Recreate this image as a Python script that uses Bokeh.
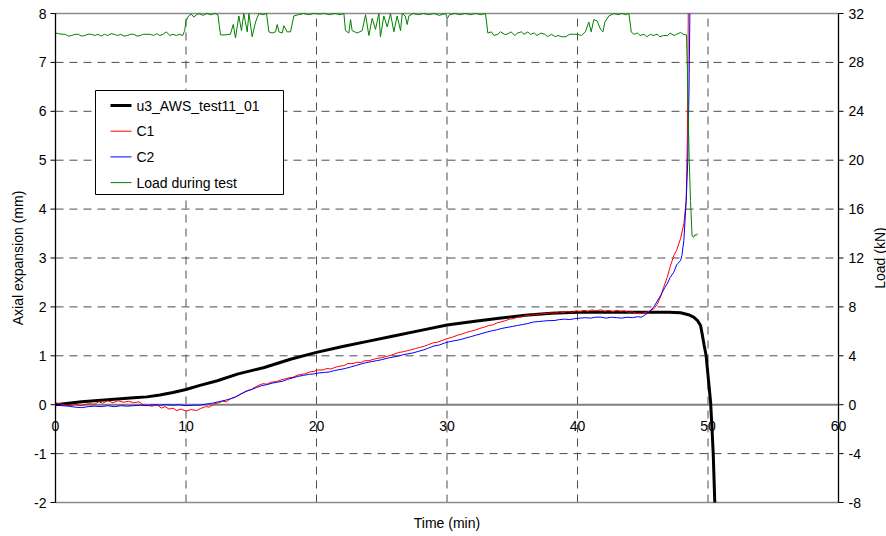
import math
from bokeh.plotting import figure
from bokeh.models import Range1d, ColumnDataSource, LabelSet, Label
from bokeh.core.properties import value
from bokeh.embed import file_html
from bokeh.resources import INLINE

# ---------------- data ----------------
x_ticks = [0, 10, 20, 30, 40, 50, 60]
x_tick_labels = ["0", "10", "20", "30", "40", "50", "60"]
y_ticks = [-2, -1, 0, 1, 2, 3, 4, 5, 6, 7, 8]
y_tick_labels = ["-2", "-1", "0", "1", "2", "3", "4", "5", "6", "7", "8"]
load_ticks = [-8, -4, 0, 4, 8, 12, 16, 20, 24, 28, 32]
load_tick_labels = ["-8", "-4", "0", "4", "8", "12", "16", "20", "24", "28", "32"]

u3_t = [0, 1, 2, 3, 4, 5, 6, 7, 8, 9, 10, 11, 12.4, 14, 16, 18, 20, 22, 24, 26, 28, 30,
        32, 34, 36, 38, 40, 42, 44, 46, 47, 47.9, 48.5, 48.9, 49.2, 49.43, 49.55, 49.7,
        49.86, 50.0, 50.2, 50.3, 50.4, 50.52]
u3_v = [0, 0.03, 0.06, 0.08, 0.1, 0.12, 0.14, 0.16, 0.2, 0.25, 0.31, 0.39, 0.49, 0.63,
        0.76, 0.93, 1.07, 1.19, 1.3, 1.41, 1.52, 1.63, 1.7, 1.77, 1.83, 1.87, 1.89, 1.89,
        1.89, 1.89, 1.89, 1.88, 1.84, 1.79, 1.72, 1.62, 1.45, 1.22, 1.0, 0.6, 0.05, -0.45,
        -1.0, -2.0]

c1_t = [0, 0.5, 1.0, 1.5, 2.0, 2.5, 3.0, 3.3, 3.6, 4.0, 4.4, 4.8, 5.2, 5.6, 6.0, 6.4, 6.7,
        7.0, 7.4, 7.8, 8.1, 8.4, 8.7, 9.0, 9.3, 9.6, 10.0, 10.4, 10.8, 11.1, 11.5, 11.8,
        12.1, 12.5, 12.8, 13.1, 13.4, 13.8, 14.1, 14.4, 14.7, 15.0, 15.3, 15.6, 15.9, 16.2,
        16.5, 16.9, 17.2, 17.6, 17.9, 18.2, 18.5, 18.8, 19.1, 19.5, 19.8, 20.1, 20.5, 20.8,
        21.1, 21.5, 21.8, 22.1, 22.4, 22.8, 23.1, 23.4, 23.7, 24.0, 24.4, 24.7, 25.0, 25.4,
        25.7, 26.0, 26.3, 26.6, 26.9, 27.2, 27.6, 27.9, 28.3, 28.6, 29.0, 29.3, 29.7, 30.0,
        30.4, 30.8, 31.1, 31.5, 31.8, 32.2, 32.5, 32.8, 33.2, 33.5, 33.8, 34.1, 34.5, 34.8,
        35.1, 35.4, 35.8, 36.1, 36.4, 36.7, 37.0, 37.3, 37.6, 37.9, 38.3, 38.6, 38.9, 39.2,
        39.6, 39.9, 40.2, 40.5, 40.8, 41.1, 41.4, 41.8, 42.1, 42.4, 42.7, 43.0, 43.3, 43.6,
        43.9, 44.2, 44.5, 44.8, 45.1, 45.4, 45.85, 46.1, 46.36, 46.6, 46.87, 47.1, 47.38,
        47.6, 47.9, 48.15, 48.33, 48.42, 48.49]
c1_v = [0.04, 0.01, -0.02, 0.0, -0.02, 0.02, 0.01, 0.06, 0.03, 0.08, 0.04, 0.08, 0.05,
        0.07, 0.04, 0.06, 0.0, -0.01, -0.03, 0.0, -0.07, -0.04, -0.09, -0.07, -0.12, -0.09,
        -0.13, -0.1, -0.12, -0.08, -0.04, -0.05, 0.01, 0.04, 0.07, 0.06, 0.12, 0.16, 0.2,
        0.25, 0.29, 0.31, 0.36, 0.4, 0.43, 0.42, 0.46, 0.47, 0.5, 0.53, 0.55, 0.56, 0.6,
        0.62, 0.63, 0.67, 0.68, 0.71, 0.71, 0.74, 0.73, 0.77, 0.79, 0.8, 0.84, 0.84, 0.87,
        0.86, 0.9, 0.9, 0.93, 0.95, 0.96, 0.99, 1.01, 1.04, 1.07, 1.08, 1.1, 1.12, 1.15,
        1.17, 1.2, 1.23, 1.27, 1.28, 1.32, 1.35, 1.38, 1.42, 1.44, 1.48, 1.5, 1.53, 1.56,
        1.58, 1.62, 1.63, 1.67, 1.69, 1.72, 1.75, 1.76, 1.79, 1.8, 1.83, 1.82, 1.85, 1.84,
        1.87, 1.86, 1.88, 1.87, 1.9, 1.88, 1.91, 1.89, 1.92, 1.9, 1.93, 1.91, 1.94, 1.92,
        1.94, 1.91, 1.93, 1.9, 1.93, 1.91, 1.92, 1.89, 1.9, 1.87, 1.86, 1.88, 1.9, 1.96,
        2.05, 2.2, 2.4, 2.6, 2.82, 3.05, 3.16, 3.4, 3.7, 4.18, 5.5, 8.0]

c2_t = [0, 0.5, 1.0, 1.5, 2.0, 2.5, 3.0, 3.5, 4.0, 4.5, 5.0, 5.5, 6.0, 6.5, 7.0, 7.5, 8.0,
        8.5, 9.0, 9.5, 10.0, 10.5, 11.0, 11.5, 12.0, 12.5, 13.0, 13.4, 13.8, 14.2, 14.6,
        15.0, 15.4, 15.8, 16.2, 16.6, 17.0, 17.4, 17.8, 18.2, 18.6, 19.0, 19.4, 19.8, 20.2,
        20.6, 21.0, 21.4, 21.8, 22.2, 22.6, 23.0, 23.4, 23.8, 24.2, 24.6, 25.0, 25.4, 25.8,
        26.2, 26.6, 27.0, 27.4, 27.8, 28.2, 28.6, 29.0, 29.4, 29.8, 30.2, 30.6, 31.0, 31.4,
        31.8, 32.2, 32.6, 33.0, 33.4, 33.8, 34.2, 34.6, 35.0, 35.4, 35.8, 36.2, 36.6, 37.0,
        37.4, 37.8, 38.2, 38.6, 39.0, 39.4, 39.8, 40.2, 40.6, 41.0, 41.4, 41.8, 42.2, 42.6,
        43.0, 43.4, 43.8, 44.2, 44.6, 44.9, 45.2, 45.5, 45.85, 46.36, 46.7, 46.87, 47.1,
        47.38, 47.6, 47.9, 48.0, 48.15, 48.33, 48.45, 48.55, 48.61]
c2_v = [-0.01, -0.02, -0.03, -0.05, -0.06, -0.04, -0.03, -0.04, -0.02, -0.04, -0.02, -0.03,
        -0.02, -0.01, -0.02, 0.0, -0.01, 0.0, -0.01, 0.0, -0.02, -0.01, -0.01, 0.01, 0.03,
        0.06, 0.09, 0.12, 0.16, 0.22, 0.27, 0.31, 0.35, 0.39, 0.41, 0.44, 0.46, 0.48, 0.52,
        0.55, 0.58, 0.6, 0.62, 0.63, 0.65, 0.66, 0.67, 0.7, 0.72, 0.74, 0.77, 0.8, 0.83,
        0.86, 0.88, 0.9, 0.92, 0.95, 0.97, 0.99, 1.02, 1.04, 1.06, 1.09, 1.12, 1.16, 1.2,
        1.22, 1.26, 1.29, 1.31, 1.33, 1.36, 1.39, 1.42, 1.45, 1.48, 1.51, 1.53, 1.56, 1.58,
        1.6, 1.62, 1.64, 1.66, 1.69, 1.7, 1.71, 1.72, 1.72, 1.74, 1.75, 1.74, 1.76, 1.77,
        1.78, 1.77, 1.79, 1.79, 1.77, 1.79, 1.78, 1.77, 1.79, 1.78, 1.8, 1.79, 1.84, 1.9,
        2.0, 2.23, 2.4, 2.47, 2.6, 2.71, 2.86, 2.95, 3.05, 3.36, 4.18, 5.0, 6.5, 8.0]

load_t = [0, 0.25, 0.5, 0.75, 1.0, 1.25, 1.5, 1.75, 2.0, 2.25, 2.5, 2.75, 3.0, 3.25, 3.5,
          3.75, 4.0, 4.25, 4.5, 4.75, 5.0, 5.25, 5.5, 5.75, 6.0, 6.25, 6.5, 6.75, 7.0, 7.25,
          7.5, 7.75, 8.0, 8.25, 8.5, 8.75, 9.0, 9.25, 9.5, 9.75, 9.9, 10.0, 10.2, 10.4, 10.6,
          10.8, 11.0, 11.3, 11.6, 11.9, 12.2, 12.45, 12.55, 12.65, 13.0, 13.4, 13.62, 13.79,
          14.05, 14.25, 14.43, 14.69, 14.82, 15.07, 15.33, 15.58, 15.9, 16.17, 16.35, 16.6,
          16.86, 16.99, 17.12, 17.37, 17.5, 17.75, 18.01, 18.26, 18.6, 19.0, 19.4, 19.8,
          20.2, 20.6, 21.0, 21.4, 21.8, 22.1, 22.22, 22.48, 22.61, 22.73, 23.12, 23.5, 23.76,
          24.01, 24.27, 24.52, 24.78, 24.9, 25.16, 25.42, 25.67, 25.93, 26.18, 26.44, 26.57,
          26.8, 26.95, 27.08, 27.4, 27.8, 28.2, 28.6, 29.0, 29.4, 29.9, 30.02, 30.2, 30.6,
          31.0, 31.4, 31.8, 32.2, 32.6, 32.95, 33.13, 33.4, 33.6, 33.9, 34.1, 34.4, 34.6,
          34.9, 35.2, 35.4, 35.7, 35.9, 36.2, 36.4, 36.7, 36.9, 37.2, 37.5, 37.7, 38.0, 38.3,
          38.5, 38.8, 39.1, 39.4, 39.7, 40.0, 40.3, 40.6, 40.87, 41.05, 41.25, 41.5, 41.77,
          41.95, 42.1, 42.4, 42.79, 43.1, 43.4, 43.7, 43.94, 44.12, 44.3, 44.6, 44.8, 45.1,
          45.3, 45.6, 45.8, 46.1, 46.3, 46.6, 46.9, 47.1, 47.4, 47.6, 47.9, 48.1, 48.35,
          48.42, 48.48, 48.56, 48.66, 48.78, 48.9, 49.0, 49.1, 49.2]
load_v = [30.4, 30.35, 30.3, 30.3, 30.15, 30.2, 30.3, 30.3, 30.15, 30.2, 30.3, 30.3, 30.2,
          30.3, 30.15, 30.3, 30.2, 30.35, 30.3, 30.2, 30.3, 30.15, 30.2, 30.3, 30.3, 30.15,
          30.2, 30.3, 30.3, 30.3, 30.2, 30.35, 30.2, 30.3, 30.5, 30.2, 30.3, 30.2, 30.3,
          30.2, 30.6, 31.4, 31.8, 31.95, 31.7, 31.9, 32.0, 31.85, 32.0, 31.9, 32.0, 31.9,
          31.0, 30.25, 30.25, 30.3, 31.1, 30.0, 31.8, 30.6, 32.0, 30.5, 32.0, 30.1, 31.3,
          32.0, 31.9, 32.0, 30.5, 30.4, 30.5, 31.1, 30.5, 30.4, 31.0, 30.5, 30.5, 31.8, 31.9,
          32.0, 31.9, 32.0, 31.95, 32.0, 31.9, 32.0, 31.9, 32.0, 30.6, 30.4, 31.5, 30.6,
          30.4, 30.6, 31.9, 30.2, 31.6, 30.7, 32.0, 30.1, 31.8, 30.9, 32.0, 30.5, 31.8, 30.6,
          32.0, 31.8, 31.1, 31.8, 32.0, 31.9, 32.0, 31.9, 32.0, 31.85, 32.0, 31.6, 31.9,
          32.0, 31.9, 32.0, 31.9, 32.0, 31.9, 32.0, 30.4, 30.5, 30.2, 30.3, 30.5, 30.3, 30.3,
          30.5, 30.2, 30.4, 30.5, 30.3, 30.5, 30.3, 30.4, 30.2, 30.4, 30.3, 30.1, 30.3, 30.1,
          30.2, 30.1, 30.1, 30.3, 30.3, 30.3, 30.2, 30.5, 31.3, 30.5, 31.5, 31.4, 30.7, 30.5,
          31.3, 31.8, 32.0, 31.9, 32.0, 31.9, 32.0, 30.5, 30.3, 30.4, 30.2, 30.3, 30.1, 30.3,
          30.2, 30.3, 30.1, 30.2, 30.2, 30.4, 30.2, 30.3, 30.45, 30.3, 30.25, 27.5, 24.0,
          20.0, 16.7, 13.8, 13.7, 13.9, 13.85, 14.0]

series_labels = ["u3_AWS_test11_01", "C1", "C2", "Load during test"]
x_title = "Time (min)"
y_title = "Axial expansion (mm)"
load_title = "Load (kN)"

# ---------------- layout (pixels) ----------------
W, H = 886, 536
PX_L, PX_R, PY_T, PY_B = 55, 838, 13, 502          # plot box in the page
X0, X1 = x_ticks[0], x_ticks[-1]
Y0, Y1 = y_ticks[0], y_ticks[-1]
SX = (PX_R - PX_L) / (X1 - X0)
SY = (PY_B - PY_T) / (Y1 - Y0)
K = load_ticks[-1] / y_ticks[-1]                    # kN per mm on the twin axis


def px2x(px):
    return X0 + (px - PX_L) / SX


def py2y(py):
    return Y1 - (py - PY_T) / SY


FONT = "Liberation Sans"
FS = "14px"
GRID = "#4d4d4d"
EDGE = "#8a8a8a"

p = figure(width=W, height=H, x_range=Range1d(px2x(0), px2x(W)),
           y_range=Range1d(py2y(H), py2y(0)), x_axis_type=None, y_axis_type=None,
           title=None, min_border=0, output_backend="svg", toolbar_location=None)
p.extra_y_ranges = {"load": Range1d(K * py2y(H), K * py2y(0))}
p.outline_line_color = None
p.background_fill_color = "white"
p.border_fill_color = "white"

# dashed grid inside the plot box
vg = x_ticks[1:-1]
p.segment(x0=vg, x1=vg, y0=[Y0] * len(vg), y1=[Y1] * len(vg),
          line_color=GRID, line_width=1, line_dash="8 6")
hg = [t for t in y_ticks if t not in (Y0, 0, Y1)]
p.segment(x0=[X0] * len(hg), x1=[X1] * len(hg), y0=hg, y1=hg,
          line_color=GRID, line_width=1, line_dash="8 6")

# box top/bottom and the zero line
p.segment(x0=[X0, X0], x1=[X1, X1], y0=[Y0, Y1], y1=[Y0, Y1], line_color=EDGE, line_width=1.5)
p.segment(x0=[X0], x1=[X1], y0=[0], y1=[0], line_color="#808080", line_width=2)

# series
p.line(u3_t, u3_v, line_color="black", line_width=3)
p.line(c1_t, c1_v, line_color="#ff0000", line_width=1)
p.line(c2_t, c2_v, line_color="#0000ff", line_width=1)
p.line(load_t, load_v, line_color="#008000", line_width=1, y_range_name="load")

# the two value axes
p.segment(x0=[X0, X1], x1=[X0, X1], y0=[Y0, Y0], y1=[Y1, Y1], line_color="black", line_width=1.3)
p.ray(x=[X0] * len(y_ticks), y=y_ticks, length=5, length_units="screen", angle=math.pi,
      line_color="black", line_width=1)
p.ray(x=[X1] * len(load_ticks), y=load_ticks, length=5, length_units="screen", angle=0,
      line_color="black", line_width=1, y_range_name="load")

tf = value(FONT)
p.add_layout(LabelSet(x="x", y="y", text="t", text_align="right", text_baseline="middle",
                      x_offset=-9, text_font=tf, text_font_size=FS, text_color="black",
                      source=ColumnDataSource(dict(x=[X0] * len(y_ticks), y=y_ticks, t=y_tick_labels))))
p.add_layout(LabelSet(x="x", y="y", text="t", text_align="left", text_baseline="middle",
                      x_offset=10, text_font=tf, text_font_size=FS, text_color="black",
                      y_range_name="load",
                      source=ColumnDataSource(dict(x=[X1] * len(load_ticks), y=load_ticks, t=load_tick_labels))))
p.add_layout(LabelSet(x="x", y="y", text="t", text_align="center", text_baseline="middle",
                      y_offset=-21, text_font=tf, text_font_size=FS, text_color="black",
                      source=ColumnDataSource(dict(x=x_ticks, y=[0] * len(x_ticks), t=x_tick_labels))))

# axis titles
YM = (Y0 + Y1) / 2
p.add_layout(Label(x=(X0 + X1) / 2, y=Y0, y_offset=-20, text=x_title, text_align="center",
                   text_baseline="middle", text_font=FONT, text_font_size=FS, text_color="black"))
p.add_layout(Label(x=X0, y=YM, x_offset=-38, text=y_title, angle=math.pi / 2,
                   text_align="center", text_baseline="middle", text_font=FONT,
                   text_font_size=FS, text_color="black"))
p.add_layout(Label(x=X1, y=YM, x_offset=41, text=load_title, angle=math.pi / 2,
                   text_align="center", text_baseline="middle", text_font=FONT,
                   text_font_size=FS, text_color="black"))

# legend (frame, sample lines, labels)
LG_L, LG_R, LG_T, LG_B = 95, 283, 90, 194
p.quad(left=[px2x(LG_L)], right=[px2x(LG_R)], top=[py2y(LG_T)], bottom=[py2y(LG_B)],
       fill_color="white", line_color="black", line_width=1)
leg_colors = ["black", "#ff0000", "#0000ff", "#008000"]
leg_widths = [3, 1, 1, 1]
rows = [py2y(105 + 25.7 * i) for i in range(len(series_labels))]
for c, w, yy in zip(leg_colors, leg_widths, rows):
    p.line([px2x(110), px2x(131)], [yy, yy], line_color=c, line_width=w)
p.add_layout(LabelSet(x="x", y="y", text="t", text_align="left", text_baseline="middle",
                      text_font=tf, text_font_size=FS, text_color="black",
                      source=ColumnDataSource(dict(x=[px2x(136)] * len(rows), y=rows, t=series_labels))))

open("out.html", "w").write(file_html(p, INLINE))
